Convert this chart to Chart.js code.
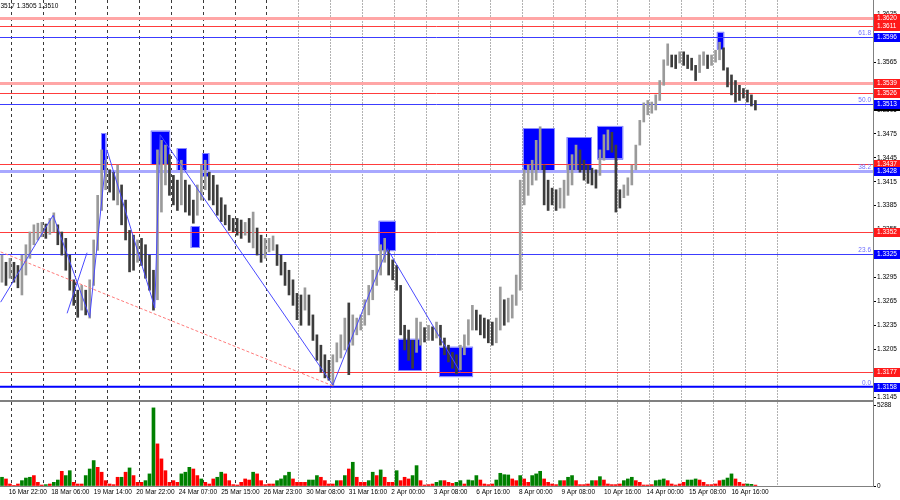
<!DOCTYPE html>
<html lang="en">
<head>
<meta charset="UTF-8" />
<title>GBPUSD H1</title>
<style>
  body { margin: 0; background: #fff; }
  #wrap { position: relative; width: 900px; height: 500px; }
</style>
</head>
<body>
<div id="wrap"><canvas id="chart"></canvas></div>
<script src="https://cdn.jsdelivr.net/npm/chart.js"></script>
<script>
// H1 chart read in 3-bar slices (slice i covers bars 3i..3i+2, bar 0 = 16 Mar 16:00)
const highs = [
  1.3323,1.3314,1.3319,1.3314,1.3310,1.3323,1.3336,1.3352,1.3361,1.3363,
  1.3364,1.3362,1.3369,1.3376,1.3361,1.3352,1.3344,1.3323,1.3292,1.3279,
  1.3285,1.3279,1.3292,1.3342,1.3398,1.3455,1.3442,1.3430,1.3427,1.3436,
  1.3411,1.3392,1.3354,1.3348,1.3342,1.3344,1.3336,1.3323,1.3304,1.3455,
  1.3467,1.3461,1.3449,1.3423,1.3417,1.3442,1.3417,1.3411,1.3392,1.3411,
  1.3436,1.3442,1.3427,1.3423,1.3411,1.3395,1.3386,1.3373,1.3369,1.3369,
  1.3367,1.3364,1.3369,1.3377,1.3357,1.3348,1.3344,1.3344,1.3347,1.3336,
  1.3323,1.3314,1.3304,1.3292,1.3275,1.3273,1.3282,1.3273,1.3248,1.3223,
  1.3210,1.3198,1.3191,1.3198,1.3213,1.3223,1.3244,1.3263,1.3248,1.3244,
  1.3248,1.3267,1.3285,1.3304,1.3323,1.3336,1.3344,1.3329,1.3317,1.3310,
  1.3285,1.3235,1.3229,1.3216,1.3244,1.3239,1.3232,1.3235,1.3233,1.3239,
  1.3235,1.3219,1.3210,1.3201,1.3198,1.3210,1.3223,1.3242,1.3260,1.3254,
  1.3248,1.3244,1.3242,1.3239,1.3244,1.3283,1.3267,1.3269,1.3273,1.3298,
  1.3417,1.3430,1.3436,1.3442,1.3467,1.3484,1.3436,1.3417,1.3407,1.3405,
  1.3407,1.3417,1.3436,1.3449,1.3461,1.3455,1.3442,1.3436,1.3432,1.3430,
  1.3455,1.3474,1.3480,1.3477,1.3461,1.3405,1.3411,1.3420,1.3436,1.3461,
  1.3492,1.3514,1.3517,1.3515,1.3524,1.3542,1.3568,1.3588,1.3574,1.3574,
  1.3578,1.3578,1.3574,1.3570,1.3561,1.3574,1.3578,1.3574,1.3574,1.3580,
  1.3590,1.3583,1.3558,1.3549,1.3542,1.3536,1.3532,1.3530,1.3524,1.3517
];
const lows = [
  1.3289,1.3285,1.3294,1.3289,1.3282,1.3273,1.3298,1.3319,1.3336,1.3342,
  1.3346,1.3344,1.3349,1.3352,1.3336,1.3323,1.3304,1.3279,1.3260,1.3245,
  1.3254,1.3248,1.3244,1.3285,1.3329,1.3379,1.3405,1.3402,1.3392,1.3386,
  1.3361,1.3342,1.3302,1.3304,1.3314,1.3310,1.3294,1.3279,1.3254,1.3267,
  1.3377,1.3411,1.3398,1.3386,1.3379,1.3386,1.3377,1.3373,1.3363,1.3373,
  1.3392,1.3405,1.3392,1.3386,1.3373,1.3365,1.3361,1.3354,1.3352,1.3348,
  1.3344,1.3348,1.3339,1.3332,1.3323,1.3314,1.3319,1.3327,1.3329,1.3310,
  1.3298,1.3285,1.3273,1.3260,1.3242,1.3235,1.3254,1.3235,1.3216,1.3191,
  1.3176,1.3169,1.3166,1.3159,1.3189,1.3194,1.3204,1.3173,1.3210,1.3223,
  1.3229,1.3235,1.3248,1.3267,1.3285,1.3298,1.3314,1.3298,1.3292,1.3279,
  1.3223,1.3204,1.3191,1.3181,1.3201,1.3210,1.3214,1.3216,1.3216,1.3219,
  1.3210,1.3198,1.3189,1.3181,1.3174,1.3179,1.3198,1.3210,1.3229,1.3229,
  1.3223,1.3219,1.3213,1.3210,1.3213,1.3229,1.3235,1.3239,1.3244,1.3260,
  1.3279,1.3386,1.3398,1.3411,1.3417,1.3430,1.3386,1.3379,1.3386,1.3379,
  1.3382,1.3382,1.3398,1.3411,1.3430,1.3427,1.3417,1.3413,1.3411,1.3407,
  1.3423,1.3442,1.3455,1.3452,1.3377,1.3382,1.3395,1.3398,1.3411,1.3430,
  1.3461,1.3490,1.3499,1.3501,1.3505,1.3517,1.3536,1.3561,1.3559,1.3557,
  1.3564,1.3561,1.3557,1.3555,1.3542,1.3552,1.3561,1.3557,1.3561,1.3565,
  1.3568,1.3555,1.3534,1.3524,1.3515,1.3517,1.3520,1.3515,1.3510,1.3505
];
const volumes = [
  570,460,130,40,130,350,520,570,680,240,
  65,90,130,240,390,960,680,1000,240,130,
  130,680,1110,1660,1220,900,350,130,90,570,
  570,900,1180,680,240,240,350,790,5100,2750,
  1770,1000,240,350,240,790,900,1220,1110,680,
  460,240,130,460,570,900,790,350,90,65,
  240,460,390,900,790,350,90,130,130,350,
  460,680,900,460,240,240,240,390,390,680,
  570,350,130,130,350,350,680,1110,1550,570,
  240,240,350,900,680,1050,570,240,240,1000,
  350,570,460,680,1330,350,65,90,130,240,
  350,350,240,170,240,350,130,390,350,680,
  390,130,90,130,390,830,740,720,460,350,
  680,460,240,680,790,960,460,240,130,90,
  350,350,570,680,350,90,90,130,350,350,
  610,390,130,90,90,130,350,460,570,350,
  240,65,65,90,350,390,460,350,130,65,
  130,240,390,390,460,390,240,90,90,130,
  350,390,520,790,460,240,130,130,110,60
];
// g = rising slice, r = falling slice
const volumeDir = (
  'grrrrgggrr' + 'rgrggrggrr' + 'rgggrrrrrr' + 'grgrrrgggr' + 'rrrrrgggrr' +
  'grrrggrrrr' + 'rrrgrrrrrg' + 'gggrrrrggg' + 'rrrrgrgrgr' + 'rrggrgrrrg' +
  'rrrggrrrrg' + 'grrrggrggg' + 'rrrrggggrr' + 'grrgggrrrr' + 'grggrrrrgr' +
  'grrrrrgggr' + 'rrrrgggrrr' + 'rrgggrrrrr' + 'rgggrrrggr'
).split('');

const timeLabels = ['16 Mar 22:00','18 Mar 06:00','19 Mar 14:00','20 Mar 22:00','24 Mar 07:00',
  '25 Mar 15:00','26 Mar 23:00','30 Mar 08:00','31 Mar 16:00','2 Apr 00:00','3 Apr 08:00',
  '6 Apr 16:00','8 Apr 00:00','9 Apr 08:00','10 Apr 16:00','14 Apr 00:00','15 Apr 08:00','16 Apr 16:00'];
const firstLabelBar = 6;
const barsPerLabel = 32;
const firstDayBar = 8;     // first midnight separator
const barsPerDay = 24;
const dayCount = 25;

const priceTicks = [1.3145,1.3175,1.3205,1.3235,1.3265,1.3295,1.3325,1.3355,1.3385,
  1.3415,1.3445,1.3475,1.3505,1.3535,1.3565,1.3595,1.3625];
const volumeTicks = [0, 5288];

const pinkLevels = [1.3620, 1.3539];
const redLevels = [1.3611, 1.3526, 1.3437, 1.3352, 1.3177];
const fibPrices = [1.3596, 1.3513, 1.3428, 1.3325, 1.3158];
const fibNames = ['61.8', '50.0', '38.2', '23.6', '0.0'];
const lastPrice = 1.3510;
const headerText = '1.3517 1.3505 1.3510';

// zones: [from bar, to bar, top price, bottom price]
const boxes = [
  [75.5, 79.5, 1.3476, 1.3426], [113, 127.5, 1.3479, 1.3436], [132.5, 140, 1.3457, 1.3427],
  [143, 149.5, 1.3359, 1.3332], [151.5, 157, 1.3451, 1.3421], [284.5, 297, 1.3366, 1.3328],
  [299, 317, 1.3218, 1.3178], [330, 355.5, 1.3208, 1.3170], [393, 417, 1.3482, 1.3427],
  [426, 444.5, 1.3471, 1.3428], [449, 468.5, 1.3485, 1.3443], [539, 544.5, 1.3603, 1.3581]
];

const zigzagBars = [0, 39.5, 67, 80, 116, 120, 250, 291, 346];
const zigzagPrices = [1.3264, 1.3373, 1.3245, 1.3455, 1.3257, 1.3474, 1.3160, 1.3331, 1.3176];
const sideLineBars = [50, 65];
const sideLinePrices = [1.3250, 1.3326];
const trendBars = [0, 250];
const trendPrices = [1.3327, 1.3159];

const axisFont = { family: 'Liberation Sans', size: 6.5 };

function noPadding(s) {
  s.paddingTop = 0; s.paddingBottom = 0; s.paddingLeft = 0; s.paddingRight = 0;
}

const mtPanel = {
  id: 'mtPanel',
  beforeDatasetsDraw(chart) {
    const { ctx, chartArea: area, scales: { x, y } } = chart;
    ctx.save();
    // day separators through both panels
    for (let k = 0; k < dayCount; k++) {
      const px = Math.round(x.getPixelForValue(firstDayBar + k * barsPerDay)) + 0.5;
      ctx.beginPath();
      ctx.lineWidth = 1;
      ctx.strokeStyle = k < 9 ? '#3a3a3a' : '#b2b2b2';
      ctx.setLineDash(k < 9 ? [3, 3] : [2, 1]);
      ctx.moveTo(px, area.top);
      ctx.lineTo(px, area.bottom);
      ctx.stroke();
    }
    ctx.setLineDash([]);

    boxes.forEach(b => {
      const x1 = x.getPixelForValue(b[0]), x2 = x.getPixelForValue(b[1]);
      const y1 = y.getPixelForValue(b[2]), y2 = y.getPixelForValue(b[3]);
      ctx.fillStyle = '#0000ff';
      ctx.fillRect(x1, y1, x2 - x1, y2 - y1);
      ctx.strokeStyle = '#8a8aff';
      ctx.lineWidth = 1;
      ctx.strokeRect(Math.round(x1) + 0.5, Math.round(y1) + 0.5, Math.round(x2 - x1) - 1, Math.round(y2 - y1) - 1);
    });

    const hline = (p, color, w) => {
      let py = y.getPixelForValue(p);
      if (w % 2 === 1) py = Math.round(py) + 0.5;
      ctx.beginPath();
      ctx.strokeStyle = color;
      ctx.lineWidth = w;
      ctx.moveTo(area.left, py);
      ctx.lineTo(area.right, py);
      ctx.stroke();
    };
    pinkLevels.forEach(p => hline(p, '#ffa6a6', 3));
    redLevels.forEach(p => hline(p, '#ff3c3c', 1));
    fibPrices.forEach((p, i) => {
      if (i === 2) hline(p, '#a8a8ff', 3);
      else if (i === 4) hline(p, '#0000ff', 2);
      else hline(p, '#3c3cff', 1);
    });
    ctx.restore();
  },
  afterDraw(chart) {
    const { ctx, chartArea: area, scales: { y } } = chart;
    ctx.save();
    // separator between price and volume windows
    ctx.fillStyle = '#808080';
    ctx.fillRect(area.left, y.bottom - 1, area.right - area.left, 2);

    ctx.font = '6.5px "Liberation Sans"';
    ctx.textBaseline = 'alphabetic';
    ctx.textAlign = 'right';
    ctx.fillStyle = '#6e6eff';
    fibPrices.forEach((p, i) => {
      ctx.fillText(fibNames[i], area.right - 2, y.getPixelForValue(p) - 2);
    });

    ctx.textAlign = 'left';
    ctx.textBaseline = 'middle';
    const tag = (p, bg) => {
      const py = Math.round(y.getPixelForValue(p));
      ctx.fillStyle = bg;
      ctx.fillRect(area.right + 1, py - 4, chart.width - area.right - 1, 9);
      ctx.fillStyle = '#fff';
      ctx.fillText(p.toFixed(4), area.right + 4, py + 0.5);
    };
    tag(lastPrice, '#000');
    pinkLevels.concat(redLevels).forEach(p => tag(p, '#ff1a1a'));
    fibPrices.forEach(p => tag(p, '#0000ff'));

    ctx.fillStyle = '#000';
    ctx.fillText(headerText, area.left - 5, 6);
    ctx.restore();
  }
};

const candleData = highs.map((h, i) => ({ x: i * 3 + 1, y: [lows[i], h] }));
const volumeData = volumes.map((v, i) => ({ x: i * 3 + 1, y: v }));

new Chart(document.getElementById('chart'), {
  type: 'bar',
  data: {
    datasets: [
      {
        type: 'line', yAxisID: 'y', order: 0,
        data: zigzagBars.map((b, i) => ({ x: b, y: zigzagPrices[i] })),
        borderColor: '#4a4aff', borderWidth: 1, pointRadius: 0
      },
      {
        type: 'line', yAxisID: 'y', order: 0,
        data: sideLineBars.map((b, i) => ({ x: b, y: sideLinePrices[i] })),
        borderColor: '#4a4aff', borderWidth: 1, pointRadius: 0
      },
      {
        type: 'line', yAxisID: 'y', order: 0,
        data: trendBars.map((b, i) => ({ x: b, y: trendPrices[i] })),
        borderColor: '#ff7a7a', borderWidth: 1, borderDash: [3, 2], pointRadius: 0
      },
      {
        yAxisID: 'y', order: 2, grouped: false, barThickness: 2,
        data: candleData,
        backgroundColor: c => {
          const i = c.dataIndex;
          if (i === undefined) return '#808080';
          const mid = (highs[i] + lows[i]) / 2;
          const prev = i ? (highs[i - 1] + lows[i - 1]) / 2 : mid;
          return mid >= prev ? '#9a9a9a' : '#3c3c3c';
        }
      },
      {
        yAxisID: 'yv', order: 2, grouped: false, barThickness: 3,
        data: volumeData,
        backgroundColor: c => volumeDir[c.dataIndex] === 'g' ? '#008000' : '#ff0000'
      }
    ]
  },
  options: {
    responsive: true,
    maintainAspectRatio: false,
    animation: false,
    events: [],
    layout: { padding: 0 },
    plugins: { legend: { display: false }, tooltip: { enabled: false } },
    scales: {
      x: {
        type: 'linear', min: -0.5, max: 656.5, offset: false,
        grid: { display: false, drawTicks: false },
        border: { display: true, color: '#808080' },
        afterBuildTicks: s => {
          s.ticks = timeLabels.map((t, k) => ({ value: firstLabelBar + k * barsPerLabel }));
        },
        ticks: {
          autoSkip: false, maxRotation: 0, align: 'start', labelOffset: 0, padding: 2,
          font: axisFont, color: '#000',
          callback: (v, i) => timeLabels[i]
        },
        afterFit: s => { s.height = 14; noPadding(s); }
      },
      y: {
        type: 'linear', position: 'right', stack: 'win', stackWeight: 401,
        min: 1.3140, max: 1.3643,
        afterBuildTicks: s => { s.ticks = priceTicks.map(v => ({ value: v })); },
        ticks: { font: axisFont, color: '#000', padding: 1, callback: v => v.toFixed(4) },
        grid: { drawOnChartArea: false, tickLength: 3, color: '#000' },
        border: { display: true, color: '#808080' },
        afterFit: s => { s.width = 27; noPadding(s); }
      },
      yv: {
        type: 'linear', position: 'right', stack: 'win', stackWeight: 85,
        min: 0, max: 5550,
        afterBuildTicks: s => { s.ticks = volumeTicks.map(v => ({ value: v })); },
        ticks: { font: axisFont, color: '#000', padding: 1, callback: v => String(v) },
        grid: { drawOnChartArea: false, tickLength: 3, color: '#000' },
        border: { display: true, color: '#808080' },
        afterFit: s => { s.width = 27; noPadding(s); }
      }
    }
  },
  plugins: [mtPanel]
});
</script>
</body>
</html>
